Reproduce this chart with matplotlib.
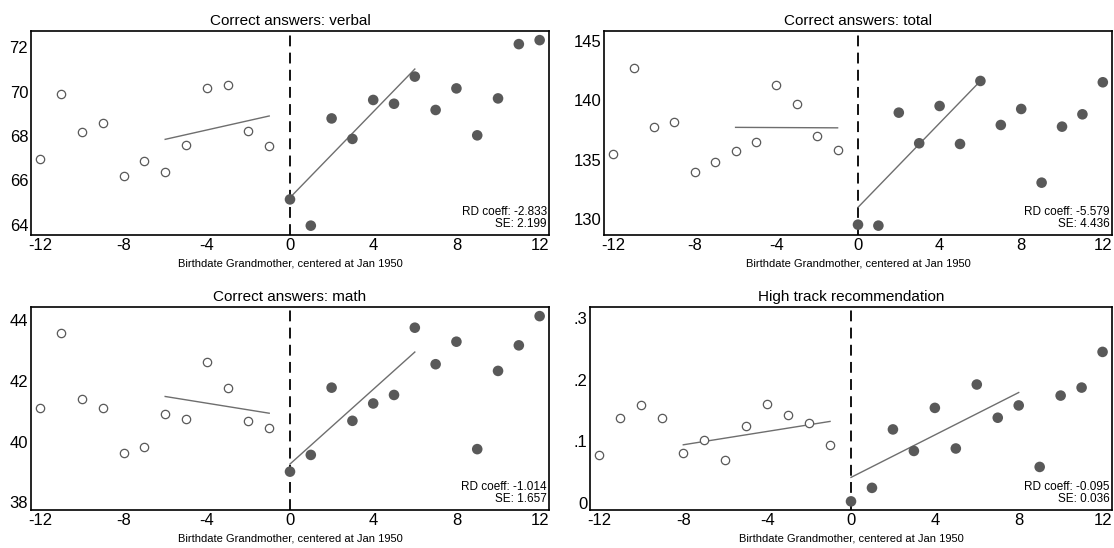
import matplotlib
matplotlib.use("Agg")
import matplotlib.pyplot as plt
import numpy as np

plt.rcParams['font.family'] = ['Liberation Sans', 'DejaVu Sans']

months_left = [-12, -11, -10, -9, -8, -7, -6, -5, -4, -3, -2, -1]
months_right = [0, 1, 2, 3, 4, 5, 6, 7, 8, 9, 10, 11, 12]

# Correct answers: verbal
verbal_left = [66.95, 69.90, 68.18, 68.58, 66.20, 66.89, 66.37, 67.60, 70.14, 70.29, 68.22, 67.57]
verbal_right = [65.15, 63.97, 68.79, 67.87, 69.62, 69.45, 70.67, 69.17, 70.14, 68.03, 69.69, 72.13, 72.31]
verbal_fit_left = ([-6, -1], [67.85, 68.90])
verbal_fit_right = ([0, 6], [65.23, 71.01])

# Correct answers: total
total_left = [135.45, 142.75, 137.78, 138.17, 133.93, 134.78, 135.73, 136.49, 141.26, 139.69, 136.99, 135.84]
total_right = [129.52, 129.44, 138.96, 136.38, 139.52, 136.32, 141.63, 137.92, 139.27, 133.06, 137.78, 138.82, 141.52]
total_fit_left = ([-6, -1], [137.72, 137.68])
total_fit_right = ([0, 6], [130.98, 141.63])

# Correct answers: math
math_left = [41.09, 43.55, 41.40, 41.09, 39.63, 39.83, 40.92, 40.73, 42.62, 41.75, 40.66, 40.43]
math_right = [39.01, 39.56, 41.77, 40.68, 41.25, 41.53, 43.74, 42.54, 43.28, 39.75, 42.32, 43.16, 44.12]
math_fit_left = ([-6, -1], [41.48, 40.93])
math_fit_right = ([0, 6], [39.26, 42.94])

# High track recommendation
track_left = [0.078, 0.137, 0.158, 0.137, 0.080, 0.101, 0.069, 0.124, 0.160, 0.143, 0.130, 0.094]
track_right = [0.002, 0.024, 0.119, 0.084, 0.154, 0.088, 0.192, 0.138, 0.158, 0.058, 0.174, 0.187, 0.245]
track_fit_left = ([-8, -1], [0.094, 0.132])
track_fit_right = ([0, 8], [0.041, 0.179])

titles = ["Correct answers: verbal", "Correct answers: total",
          "Correct answers: math", "High track recommendation"]
rd_coef = ["-2.833", "-5.579", "-1.014", "-0.095"]
rd_se = ["2.199", "4.436", "1.657", "0.036"]

x_ticks = [-12, -8, -4, 0, 4, 8, 12]
y_ticks = [[64, 66, 68, 70, 72], [130, 135, 140, 145], [38, 40, 42, 44], [0, 0.1, 0.2, 0.3]]
y_ticklabels = [["64", "66", "68", "70", "72"], ["130", "135", "140", "145"],
                ["38", "40", "42", "44"], ["0", ".1", ".2", ".3"]]
y_limits = [(63.55, 72.72), (128.65, 145.84), (37.75, 44.42), (-0.012, 0.318)]

panels = [
    (verbal_left, verbal_right, verbal_fit_left, verbal_fit_right),
    (total_left, total_right, total_fit_left, total_fit_right),
    (math_left, math_right, math_fit_left, math_fit_right),
    (track_left, track_right, track_fit_left, track_fit_right),
]

W, H = 1114, 548
boxes = [(31, 31, 549, 235), (604, 31, 1112, 235),
         (31, 307, 549, 510), (590, 307, 1112, 510)]

fig = plt.figure(figsize=(W / 100, H / 100), dpi=100)
mark_col = "#595959"

for i, (left, right, fl, fr) in enumerate(panels):
    x0, y0, x1, y1 = boxes[i]
    ax = fig.add_axes([x0 / W, 1 - y1 / H, (x1 - x0) / W, (y1 - y0) / H])
    ax.axvline(0, color="black", lw=1.3, ls=(0, (6, 3.5)), zorder=1)
    ax.plot(fl[0], fl[1], color="#6e6e6e", lw=1.0, zorder=2)
    ax.plot(fr[0], fr[1], color="#6e6e6e", lw=1.0, zorder=2)
    ax.scatter(months_left, left, s=36, facecolor="white", edgecolor=mark_col,
               linewidth=0.9, zorder=3)
    ax.scatter(months_right, right, s=58, color=mark_col, edgecolor="none", zorder=3)
    ax.set_xlim(-12.45, 12.45)
    ax.set_ylim(*y_limits[i])
    ax.set_xticks(x_ticks)
    ax.set_xticklabels([str(t) for t in x_ticks])
    ax.set_yticks(y_ticks[i])
    ax.set_yticklabels(y_ticklabels[i])
    ax.tick_params(length=0, labelsize=12, pad=2)
    for s in ax.spines.values():
        s.set_linewidth(1.2)
        s.set_color("black")
    ax.set_title(titles[i], fontsize=11, pad=4)
    ax.set_xlabel("Birthdate Grandmother, centered at Jan 1950", fontsize=8, labelpad=4)
    ax.text(0.996, 0.025, f"RD coeff: {rd_coef[i]}\nSE: {rd_se[i]}",
            transform=ax.transAxes, ha="right", va="bottom", fontsize=8.5,
            linespacing=0.95)

fig.savefig("out.png", dpi=100)
